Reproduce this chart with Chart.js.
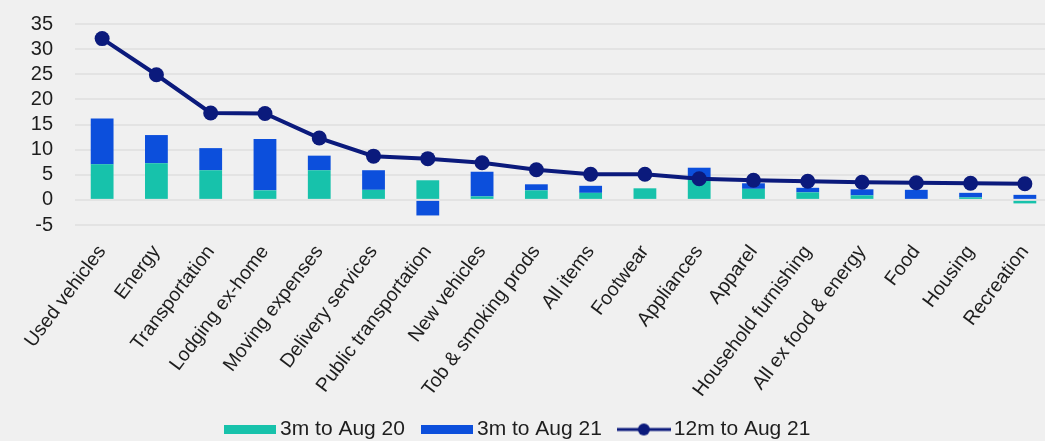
<!DOCTYPE html>
<html>
<head>
    <title>Price changes</title>
    <style>
        body {
            background-color: #f0f0f0;
            margin: 0;
            overflow: hidden;
            font-family: "Liberation Sans", Arial, sans-serif;
        }

        #chartContainer {
            position: absolute;
            left: 0;
            top: 0;
            width: 1053px;
            height: 450px;
        }
    </style>
    <script src="https://cdn.jsdelivr.net/npm/chart.js"></script>
</head>
<body>
    <div id="chartContainer">
        <canvas id="priceChart" width="1053" height="450"></canvas>
    </div>

    <script>
        var categories = ['Used vehicles', 'Energy', 'Transportation', 'Lodging ex-home', 'Moving expenses',
            'Delivery services', 'Public transportation', 'New vehicles', 'Tob & smoking prods', 'All items',
            'Footwear', 'Appliances', 'Apparel', 'Household furnishing', 'All ex food & energy', 'Food',
            'Housing', 'Recreation'];

        // 3m to Aug 20 (lower part of each bar)
        var threeMonthAug20 = [7.1, 7.3, 5.9, 1.9, 5.9, 2.0, 3.9, 0.7, 1.9, 1.4, 2.3, 4.0, 2.2, 1.5, 0.9, 0.2, 0.5, -0.7];
        // 3m to Aug 21 (stacked on top)
        var threeMonthAug21 = [9.1, 5.6, 4.4, 10.2, 2.9, 3.9, -3.1, 4.9, 1.2, 1.4, 0.0, 2.4, 1.1, 0.9, 1.2, 1.8, 0.9, 1.0];
        // 12m to Aug 21
        var twelveMonthAug21 = [32.1, 24.9, 17.3, 17.2, 12.3, 8.7, 8.2, 7.4, 6.0, 5.1, 5.1, 4.2, 3.9, 3.7, 3.5, 3.4, 3.3, 3.2];

        var seriesNames = ['3m to Aug 20', '3m to Aug 21', '12m to Aug 21'];
        var yTicks = [-5, 0, 5, 10, 15, 20, 25, 30, 35];

        var colors = {
            teal: '#17c2ab',
            blue: '#0c4fdc',
            navy: '#0b1a7c'
        };

        // small swatches for the legend
        function swatch(color) {
            var c = document.createElement('canvas');
            c.width = 52;
            c.height = 9;
            var g = c.getContext('2d');
            g.fillStyle = color;
            g.fillRect(0, 0, 52, 9);
            return c;
        }

        function lineSwatch(color) {
            var c = document.createElement('canvas');
            c.width = 54;
            c.height = 14;
            var g = c.getContext('2d');
            g.strokeStyle = color;
            g.lineWidth = 3;
            g.beginPath();
            g.moveTo(0, 7);
            g.lineTo(54, 7);
            g.stroke();
            g.fillStyle = color;
            g.beginPath();
            g.arc(27, 7, 6, 0, Math.PI * 2);
            g.fill();
            return c;
        }

        var legendIcons = [swatch(colors.teal), swatch(colors.blue), lineSwatch(colors.navy)];

        // nudge the legend row a little to the left
        var legendShift = {
            id: 'legendShift',
            afterLayout: function(chart) {
                chart.legend.left -= 21;
                chart.legend.right -= 21;
            }
        };

        var priceChart = new Chart(document.getElementById('priceChart'), {
            type: 'bar',
            data: {
                labels: categories,
                datasets: [{
                    label: seriesNames[0],
                    data: threeMonthAug20,
                    backgroundColor: colors.teal,
                    stack: 'bars',
                    order: 1
                }, {
                    label: seriesNames[1],
                    data: threeMonthAug21,
                    backgroundColor: colors.blue,
                    stack: 'bars',
                    order: 1
                }, {
                    type: 'line',
                    label: seriesNames[2],
                    data: twelveMonthAug21,
                    borderColor: colors.navy,
                    backgroundColor: colors.navy,
                    borderWidth: 4,
                    pointRadius: 7.5,
                    pointBorderWidth: 0,
                    pointBackgroundColor: colors.navy,
                    tension: 0,
                    stack: 'line',
                    order: 0
                }]
            },
            options: {
                responsive: false,
                maintainAspectRatio: false,
                animation: false,
                datasets: {
                    bar: {
                        categoryPercentage: 1,
                        barPercentage: 0.42
                    }
                },
                layout: {
                    autoPadding: false,
                    padding: { left: 31, top: 24, right: 1, bottom: 0 }
                },
                scales: {
                    x: {
                        stacked: true,
                        grid: { display: false },
                        border: { display: false },
                        ticks: {
                            autoSkip: false,
                            maxRotation: 53,
                            minRotation: 53,
                            padding: 8,
                            color: '#1e1e1e',
                            font: { family: '"Liberation Sans", Arial', size: 19.5 }
                        },
                        afterFit: function(scale) {
                            scale.height = 171.5;
                        }
                    },
                    y: {
                        stacked: true,
                        min: yTicks[0],
                        max: yTicks[yTicks.length - 1],
                        afterBuildTicks: function(scale) {
                            scale.ticks = yTicks.map(function(v) { return { value: v }; });
                        },
                        grid: {
                            color: '#e3e3e3',
                            lineWidth: 2,
                            drawTicks: false
                        },
                        border: { display: false },
                        ticks: {
                            autoSkip: false,
                            padding: 22,
                            color: '#1e1e1e',
                            font: { family: '"Liberation Sans", Arial', size: 20 }
                        },
                        afterFit: function(scale) {
                            // fixed axis width; the tick padding should not push the plot down
                            scale.width = 44;
                            scale.paddingTop = 0;
                            scale.paddingBottom = 0;
                        }
                    }
                },
                plugins: {
                    tooltip: { enabled: false },
                    legend: {
                        position: 'bottom',
                        labels: {
                            usePointStyle: true,
                            pointStyleWidth: 39,
                            boxHeight: 10,
                            padding: 22.5,
                            color: '#1e1e1e',
                            font: { family: '"Liberation Sans", Arial', size: 21 },
                            generateLabels: function(chart) {
                                return chart.data.datasets.map(function(ds, i) {
                                    return {
                                        text: ds.label,
                                        pointStyle: legendIcons[i],
                                        fontColor: '#1e1e1e',
                                        hidden: false,
                                        lineWidth: 0,
                                        datasetIndex: i
                                    };
                                });
                            }
                        }
                    }
                }
            },
            plugins: [legendShift]
        });
    </script>
</body>
</html>
